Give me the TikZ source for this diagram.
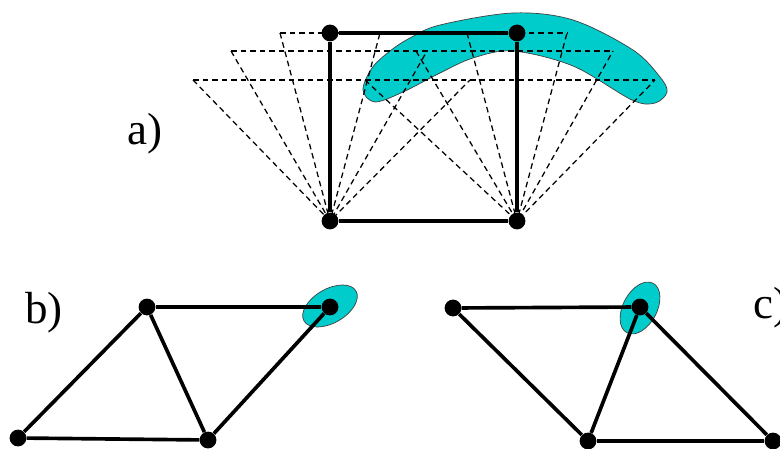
\documentclass[tikz,border=0pt]{standalone}
\usepackage{fontspec}
\setmainfont{Liberation Serif}
\usetikzlibrary{positioning,calc}
\definecolor{bananacyan}{RGB}{0,204,204}
\tikzset{
  joint/.style={circle, fill=black, inner sep=0pt, minimum size=0.42cm},
  bar/.style={line width=2.6pt},
  ghost/.style={line width=0.9pt, dash pattern=on 4pt off 2.8pt},
  region/.style={fill=bananacyan, draw=black!75, line width=0.5pt},
  tag/.style={anchor=base west, inner sep=0pt, font=\fontsize{32}{36}\selectfont}
}

\begin{document}
\begin{tikzpicture}[x=0.025cm, y=0.025cm]
    \useasboundingbox (0,0) rectangle (780,448);

    % a) region swept by the upper joints
    \draw[region] plot[smooth cycle, tension=0.55] coordinates {
        (363,358) (372,380) (390,397) (410,410) (440,423) (513,435)
        (573,428) (633,398) (660,371) (667,356) (655,345) (632,348)
        (573,382) (513,397) (473,390) (440,375) (403,356) (375,346)};

    % a) square linkage
    \node[joint] (sqTL) at (330,415) {};
    \node[joint] (sqTR) at (517,415) {};
    \node[joint] (sqBL) at (330,227) {};
    \node[joint] (sqBR) at (517,227) {};

    % a) dashed positions of the two triangles
    \foreach \h/\aL/\aR/\bL/\bR in {415/280/380/467/567, 397/231/427/416/613, 368/193/470/365/655} {
        \draw[ghost] (\aL,\h) -- (\bR,\h);
        \draw[ghost] (\aL,\h) -- (sqBL.center) -- (\aR,\h);
        \draw[ghost] (\bL,\h) -- (sqBR.center) -- (\bR,\h);
    }

    \draw[bar] (sqTL) -- (sqTR);
    \draw[bar] (sqTR) -- (sqBR);
    \draw[bar] (sqBR) -- (sqBL);
    \draw[bar] (sqBL) -- (sqTL);

    % b) framework
    \draw[region, rotate around={30:(330,142)}] (330,142) ellipse [x radius=30, y radius=17];
    \node[joint] (bTL) at (147,141) {};
    \node[joint] (bTR) at (330,141) {};
    \node[joint] (bBL) at (18,10) {};
    \node[joint] (bBM) at (208,8) {};
    \draw[bar] (bTL) -- (bTR);
    \draw[bar] (bTL) -- (bBL);
    \draw[bar] (bTL) -- (bBM);
    \draw[bar] (bBL) -- (bBM);
    \draw[bar] (bBM) -- (bTR);

    % c) framework
    \draw[region, rotate around={62:(640,140)}] (640,140) ellipse [x radius=28, y radius=17];
    \node[joint] (cTL) at (453,140) {};
    \node[joint] (cTR) at (640,141) {};
    \node[joint] (cBL) at (588,7) {};
    \node[joint] (cBR) at (773,7) {};
    \draw[bar] (cTL) -- (cTR);
    \draw[bar] (cTL) -- (cBL);
    \draw[bar] (cBL) -- (cTR);
    \draw[bar] (cBL) -- (cBR);
    \draw[bar] (cTR) -- (cBR);

    % Labels
    \node[tag] (labA) at (127,303) {a)};
    \node[tag] (labB) at (25,125) {b)};
    \node[tag] (labC) at (753,130) {c)};
\end{tikzpicture}
\end{document}
